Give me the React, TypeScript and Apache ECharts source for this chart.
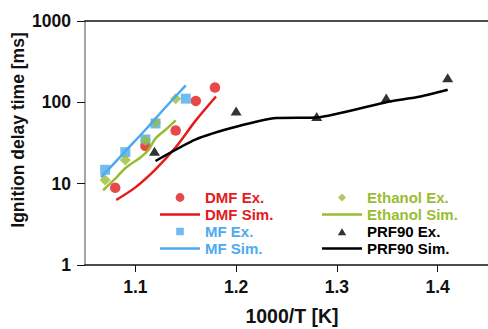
import React, { useEffect, useRef } from "react";
import * as echarts from "echarts";

const dmfEx: [number, number][] = [[1.08, 8.9], [1.11, 29], [1.14, 45], [1.16, 104], [1.179, 152]];
const dmfSim: [number, number][] = [[1.081, 6.3], [1.10, 9], [1.12, 15], [1.14, 28], [1.16, 60], [1.18, 118]];
const mfEx: [number, number][] = [[1.07, 14.8], [1.09, 24.4], [1.11, 35], [1.12, 55], [1.15, 111]];
const mfSim: [number, number][] = [[1.066, 12], [1.09, 25], [1.11, 46], [1.13, 87], [1.15, 162]];
const ethEx: [number, number][] = [[1.07, 11.1], [1.09, 19.6], [1.11, 34], [1.12, 57], [1.14, 111]];
const ethSim: [number, number][] = [[1.068, 8.3], [1.08, 11.5], [1.09, 15.5], [1.105, 21], [1.113, 26], [1.12, 36], [1.13, 46], [1.14, 60]];
const prfEx: [number, number][] = [[1.119, 25], [1.20, 78], [1.28, 67], [1.349, 113], [1.41, 200]];
const prfSim: [number, number][] = [[1.12, 19], [1.16, 35], [1.20, 50], [1.24, 64], [1.28, 65], [1.35, 101], [1.38, 116], [1.41, 143]];
const xTicks = [1.1, 1.2, 1.3, 1.4];

const RED = "#e41a1c";
const BLUE = "#4eaaf0";
const GREEN = "#99bd32";
const BLACK = "#000000";
const FONT = "Liberation Sans";

// legend icons drawn in a 40x9 box (tiny corner dots fix the box extent)
const BOX = "M0,0 L0.01,0 L0.01,0.01 Z M39.99,8.99 L40,8.99 L40,9 Z ";
const ICON_LINE = "path://" + BOX + "M0,3.25 L40,3.25 L40,5.75 L0,5.75 Z";
const ICON_CIRCLE = "path://" + BOX + "M15.6,4.5 A4.4,4.4 0 1 1 24.4,4.5 A4.4,4.4 0 1 1 15.6,4.5 Z";
const ICON_RECT = "path://" + BOX + "M16.2,0.7 L23.8,0.7 L23.8,8.3 L16.2,8.3 Z";
const ICON_DIAMOND = "path://" + BOX + "M20,0.6 L24,4.5 L20,8.4 L16,4.5 Z";
const ICON_TRI = "path://" + BOX + "M20,1.2 L24.2,8.2 L15.8,8.2 Z";

export default function App() {
  const ref = useRef<HTMLDivElement>(null);
  useEffect(() => {
    if (!ref.current) return;
    const chart = echarts.init(ref.current, null, { renderer: "svg" });
    const legendText = (color: string) => ({ color, fontWeight: "bold" as const, fontSize: 15, fontFamily: FONT });
    const legendBase = {
      orient: "vertical" as const,
      top: 190,
      padding: 0,
      itemWidth: 40,
      itemHeight: 9,
      itemGap: 2,
      selectedMode: false,
      textStyle: { fontFamily: FONT, fontWeight: "bold" as const, fontSize: 15 },
    };
    chart.setOption({
      animation: false,
      backgroundColor: "#ffffff",
      grid: { left: 85, top: 21, right: -2, bottom: 64 },
      xAxis: [
        {
          type: "value",
          min: 1.05,
          max: 1.45,
          axisLine: { lineStyle: { color: "#111", width: 1.5 } },
          axisTick: { show: true, length: 7, customValues: xTicks, lineStyle: { color: "#111" } },
          axisLabel: {
            customValues: xTicks,
            margin: 13,
            color: "#111",
            fontSize: 17.5,
            fontWeight: "bold",
            fontFamily: FONT,
            formatter: (v: number) => v.toFixed(1),
          },
          splitLine: { show: false },
        },
        {
          type: "value",
          position: "top",
          min: 1.05,
          max: 1.45,
          axisLine: { show: true, lineStyle: { color: "#111", width: 1.5 } },
          axisTick: { show: false },
          axisLabel: { show: false },
          splitLine: { show: false },
        },
      ],
      yAxis: {
        type: "log",
        logBase: 10,
        min: 1,
        max: 1000,
        axisLine: { show: true, lineStyle: { color: "#888", width: 1.5 } },
        axisTick: { show: true, length: 8, lineStyle: { color: "#111" } },
        minorTick: { show: false },
        axisLabel: {
          margin: 14,
          color: "#111",
          fontSize: 17.5,
          fontWeight: "bold",
          fontFamily: FONT,
          formatter: (v: number) => String(Math.round(v)),
        },
        splitLine: { show: false },
      },
      legend: [
        {
          ...legendBase,
          left: 160,
          data: [
            { name: "DMF Ex.", icon: ICON_CIRCLE, textStyle: legendText(RED) },
            { name: "DMF Sim.", icon: ICON_LINE, textStyle: legendText(RED) },
            { name: "MF Ex.", icon: ICON_RECT, textStyle: legendText(BLUE) },
            { name: "MF Sim.", icon: ICON_LINE, textStyle: legendText(BLUE) },
          ],
        },
        {
          ...legendBase,
          left: 322,
          data: [
            { name: "Ethanol Ex.", icon: ICON_DIAMOND, textStyle: legendText(GREEN) },
            { name: "Ethanol Sim.", icon: ICON_LINE, textStyle: legendText(GREEN) },
            { name: "PRF90 Ex.", icon: ICON_TRI, textStyle: legendText(BLACK) },
            { name: "PRF90 Sim.", icon: ICON_LINE, textStyle: legendText(BLACK) },
          ],
        },
      ],
      graphic: [
        {
          type: "text",
          x: 18,
          y: 130,
          rotation: Math.PI / 2,
          style: {
            text: "Ignition delay time [ms]",
            fontSize: 17.5,
            fontWeight: "bold",
            fontFamily: FONT,
            fill: "#111",
            textAlign: "center",
            textVerticalAlign: "middle",
          },
        },
        {
          type: "text",
          x: 292,
          y: 316,
          style: {
            text: "1000/T [K]",
            fontSize: 19.5,
            fontWeight: "bold",
            fontFamily: FONT,
            fill: "#111",
            textAlign: "center",
            textVerticalAlign: "middle",
          },
        },
      ],
      series: [
        { name: "DMF Ex.", type: "scatter", data: dmfEx, symbol: "circle", symbolSize: 10.5, itemStyle: { color: RED } },
        { name: "DMF Sim.", type: "line", data: dmfSim, symbol: "none", smooth: 0.3, lineStyle: { color: RED, width: 2.5 }, itemStyle: { color: RED } },
        { name: "MF Ex.", type: "scatter", data: mfEx, symbol: "rect", symbolSize: 10, itemStyle: { color: BLUE } },
        { name: "MF Sim.", type: "line", data: mfSim, symbol: "none", smooth: 0.3, lineStyle: { color: BLUE, width: 2.5 }, itemStyle: { color: BLUE } },
        { name: "Ethanol Ex.", type: "scatter", data: ethEx, symbol: "diamond", symbolSize: 11, itemStyle: { color: GREEN } },
        { name: "Ethanol Sim.", type: "line", data: ethSim, symbol: "none", smooth: 0.3, lineStyle: { color: GREEN, width: 2.5 }, itemStyle: { color: GREEN } },
        { name: "PRF90 Ex.", type: "scatter", data: prfEx, symbol: "triangle", symbolSize: [11, 9], itemStyle: { color: BLACK } },
        { name: "PRF90 Sim.", type: "line", data: prfSim, symbol: "none", smooth: 0.2, lineStyle: { color: BLACK, width: 2.5 }, itemStyle: { color: BLACK } },
      ],
    });
    return () => chart.dispose();
  }, []);
  return <div ref={ref} style={{ position: "fixed", left: 0, top: 0, width: 488, height: 329, background: "#fff" }} />;
}
